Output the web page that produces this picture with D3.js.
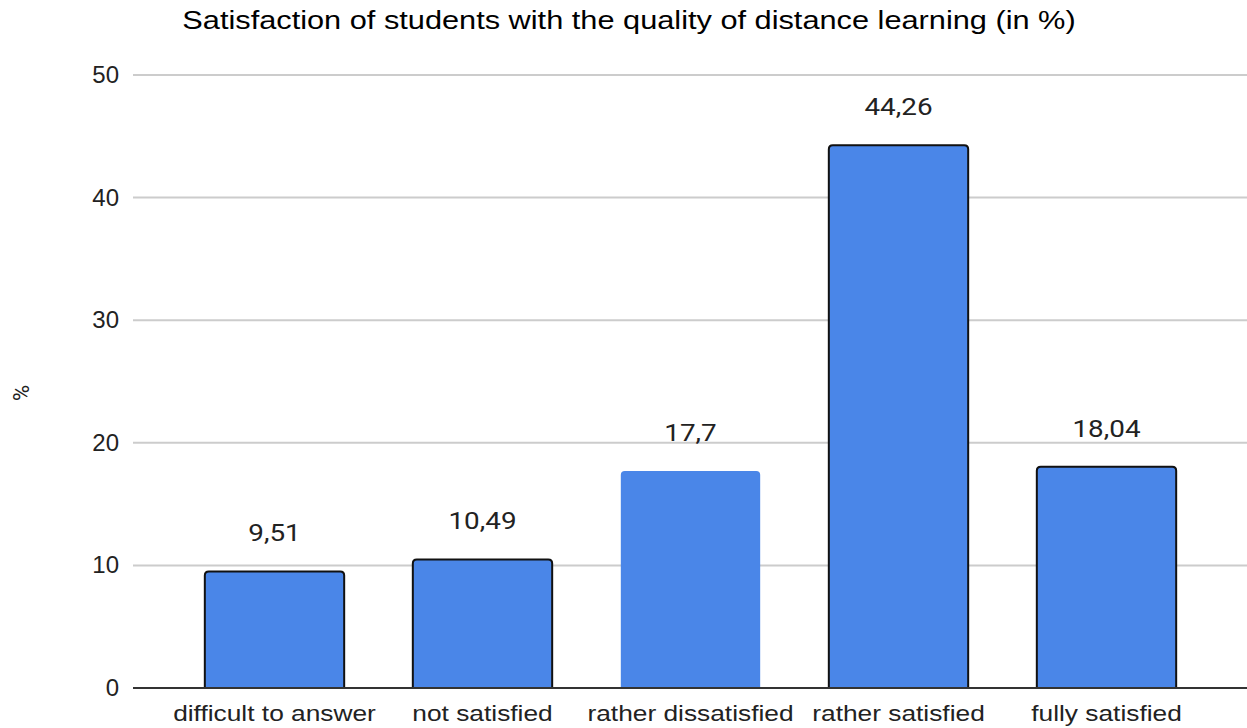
<!DOCTYPE html>
<html><head><meta charset="utf-8">
<script src="https://cdn.jsdelivr.net/npm/d3@7"></script>
<style>body{margin:0;background:#fff}</style>
</head><body>
<svg id="c" width="1247" height="728"></svg>
<script>
const categories = ["difficult to answer","not satisfied","rather dissatisfied","rather satisfied","fully satisfied"];
const values = [9.51,10.49,17.7,44.26,18.04];
const valueLabels = ["9,51","10,49","17,7","44,26","18,04"];
const outlined = [true,true,false,true,true];
const yTicks = [0,10,20,30,40,50];

const svg = d3.select("#c");
const y = d3.scaleLinear().domain([0,50]).range([688,75]);
const x = d3.scaleBand().domain(categories).range([170.5,1210.5]).paddingInner(0.33).paddingOuter(0.165);
const SX = 1.16;

// gridlines
svg.append("g").selectAll("line").data(yTicks.filter(d=>d>0)).join("line")
  .attr("x1",133).attr("x2",1247).attr("y1",d=>y(d)).attr("y2",d=>y(d))
  .attr("stroke","#cccccc").attr("stroke-width",2);

// y tick labels
svg.append("g").selectAll("text").data(yTicks).join("text")
  .attr("x",119).attr("y",d=>y(d)+8).attr("text-anchor","end")
  .attr("font-family","Liberation Sans, Arial, sans-serif").attr("font-size",24).attr("fill","#222")
  .text(d=>d);

// bars
const bw = x.bandwidth(), r = 4;
function barPath(x0,y0,w,h){
  return `M${x0},${y0+h}V${y0+r}Q${x0},${y0} ${x0+r},${y0}H${x0+w-r}Q${x0+w},${y0} ${x0+w},${y0+r}V${y0+h}`;
}
svg.append("g").selectAll("path").data(categories).join("path")
  .attr("d",(d,i)=>barPath(x(d),y(values[i]),bw,y(0)-y(values[i])))
  .attr("fill","#4a86e8")
  .attr("stroke",(d,i)=>outlined[i]?"#111":"none").attr("stroke-width",2);

// baseline axis
svg.append("line").attr("x1",133).attr("x2",1247).attr("y1",y(0)).attr("y2",y(0))
  .attr("stroke","#333").attr("stroke-width",2);

// data labels
svg.append("g").selectAll("text").data(categories).join("text")
  .attr("transform",(d,i)=>`translate(${x(d)+bw/2},${y(values[i])-30}) scale(${SX},1)`)
  .attr("text-anchor","middle")
  .attr("font-family","Roboto, sans-serif").attr("font-size",24).attr("fill","#222")
  .text((d,i)=>valueLabels[i]);

// category labels
svg.append("g").selectAll("text").data(categories).join("text")
  .attr("transform",d=>`translate(${x(d)+bw/2},721) scale(1.17,1)`)
  .attr("text-anchor","middle")
  .attr("font-family","Liberation Sans, Arial, sans-serif").attr("font-size",22.5).attr("fill","#222")
  .text(d=>d);

// title
svg.append("text").attr("transform","translate(629,29) scale(1.16,1)").attr("text-anchor","middle")
  .attr("font-family","Liberation Sans, Arial, sans-serif").attr("font-size",26.5).attr("fill","#000")
  .text("Satisfaction of students with the quality of distance learning (in %)");

// y axis title
svg.append("text").attr("transform","translate(29,393) rotate(-90)").attr("text-anchor","middle")
  .attr("font-family","Roboto, sans-serif").attr("font-size",22).attr("fill","#222")
  .text("%");
</script>
</body></html>
